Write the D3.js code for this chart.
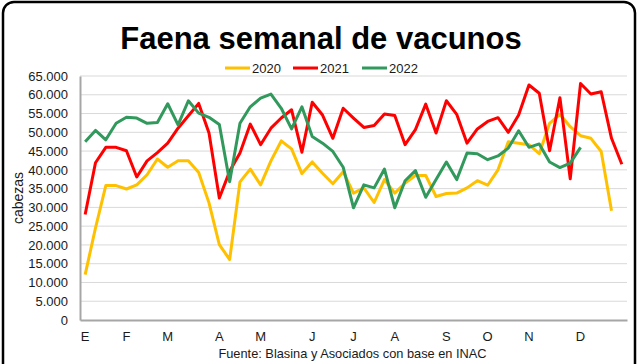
<!DOCTYPE html>
<html>
<head>
<meta charset="utf-8">
<script src="https://cdn.jsdelivr.net/npm/d3@7/dist/d3.min.js"></script>
<style>
  html, body { margin: 0; padding: 0; background: #fff; }
  svg { display: block; font-family: "Liberation Sans", Arial, sans-serif; }
</style>
</head>
<body>
<svg id="chart" width="640" height="364"></svg>
<script>
const title = "Faena semanal de vacunos";
const yAxisTitle = "cabezas";
const source = "Fuente: Blasina y Asociados con base en INAC";
const seriesNames = ["2020", "2021", "2022"];
const seriesColors = ["#FFC000", "#FF0000", "#31995C"];
// weekly categories 1..53
const weeks = d3.range(1, 54);
// month labels at week indices
const monthLabels = ["E", "F", "M", "A", "M", "J", "J", "A", "S", "O", "N", "D"];
const monthWeekIdx = [0, 4, 8, 13, 17, 22, 26, 30, 35, 39, 43, 48];
const yTicks = [0, 5000, 10000, 15000, 20000, 25000, 30000, 35000, 40000, 45000, 50000, 55000, 60000, 65000];

const values2020 = [12100, 24500, 35800, 35800, 34900, 36000, 38700, 42900, 40700, 42400, 42400, 39300, 31200, 20100, 16100, 36800, 40200, 36000, 42400, 47700, 45600, 39000, 42100, 39100, 36300, 39500, 33800, 35200, 31300, 37400, 33800, 36500, 38500, 38500, 32900, 33700, 33800, 35200, 37100, 35900, 40000, 47500, 47100, 46700, 44300, 52400, 54800, 51500, 49100, 48400, 44900, 29100];
const values2021 = [28100, 41900, 46000, 46000, 45100, 38100, 42400, 44600, 47100, 51100, 54400, 57700, 49800, 32500, 39600, 44500, 52200, 46700, 51100, 53800, 56000, 44700, 58000, 54600, 48400, 56400, 53800, 51300, 51800, 54900, 54500, 46700, 50700, 57500, 49800, 58400, 54800, 47100, 50900, 52900, 53900, 50000, 54600, 62600, 60400, 45100, 59200, 37600, 63000, 60200, 60800, 48400, 41500];
const values2022 = [47500, 50500, 48000, 52400, 54000, 53800, 52400, 52600, 57600, 52000, 58400, 55100, 54000, 52100, 36800, 52400, 56800, 59100, 60200, 56400, 50900, 56800, 48900, 47100, 44900, 40700, 29900, 36000, 35200, 40200, 29900, 37100, 39800, 32700, 37400, 42100, 37400, 44500, 44300, 42700, 43700, 45800, 50400, 46000, 46900, 42100, 40600, 41800, 46000];
const allSeries = [values2020, values2021, values2022];

const svg = d3.select("#chart");
const W = 640, H = 364;
const m = { left: 80, right: 13, top: 76, bottom: 44 };
const plotW = W - m.left - m.right;   // 547
const plotH = H - m.top - m.bottom;   // 244

// frame
svg.append("rect")
  .attr("x", 3).attr("y", 2).attr("width", 632).attr("height", 380)
  .attr("rx", 11).attr("ry", 11)
  .attr("fill", "#fff").attr("stroke", "#000").attr("stroke-width", 2.5);

const x = d3.scaleBand().domain(weeks).range([m.left, m.left + plotW]);
const y = d3.scaleLinear().domain([0, 65000]).range([m.top + plotH, m.top]);

const fmt = d3.formatLocale({ decimal: ",", thousands: ".", grouping: [3], currency: ["$", ""] }).format(",d");

// gridlines
svg.append("g").selectAll("line").data(yTicks.filter(d => d > 0)).join("line")
  .attr("x1", m.left).attr("x2", m.left + plotW)
  .attr("y1", d => y(d)).attr("y2", d => y(d))
  .attr("stroke", "#d9d9d9").attr("stroke-width", 1);

// y axis
const yAxis = svg.append("g").attr("transform", `translate(${m.left},0)`)
  .call(d3.axisLeft(y).tickValues(yTicks).tickFormat(d => fmt(d)).tickSize(0).tickPadding(12));
yAxis.select(".domain").attr("stroke", "#a6a6a6").attr("stroke-width", 2);
yAxis.selectAll("text").attr("font-size", 13).attr("fill", "#1a1a1a")
  .attr("font-family", "'Liberation Sans', Arial, sans-serif");

// x axis
const xAxis = svg.append("g").attr("transform", `translate(0,${m.top + plotH})`)
  .call(d3.axisBottom(x)
    .tickValues(monthWeekIdx.map(i => weeks[i]))
    .tickFormat(d => monthLabels[monthWeekIdx.indexOf(weeks.indexOf(d))])
    .tickSize(0).tickPadding(12));
xAxis.select(".domain").attr("stroke", "#a6a6a6").attr("stroke-width", 2);
xAxis.selectAll("text").attr("font-size", 13).attr("fill", "#1a1a1a")
  .attr("font-family", "'Liberation Sans', Arial, sans-serif");

// lines
const line = d3.line()
  .x((d, i) => x(weeks[i]) + x.bandwidth() / 2)
  .y(d => y(d));
allSeries.forEach((vals, si) => {
  svg.append("path").datum(vals)
    .attr("d", line)
    .attr("fill", "none")
    .attr("stroke", seriesColors[si])
    .attr("stroke-width", 3)
    .attr("stroke-linejoin", "round");
});

// title
svg.append("text").attr("x", 321).attr("y", 49).attr("text-anchor", "middle")
  .attr("font-size", 31).attr("font-weight", "bold").attr("fill", "#000")
  .text(title);

// legend
const legendX = [225, 293, 362];
seriesNames.forEach((name, i) => {
  const g = svg.append("g").attr("transform", `translate(${legendX[i]},68)`);
  g.append("line").attr("x1", 0).attr("x2", 25).attr("y1", 0).attr("y2", 0)
    .attr("stroke", seriesColors[i]).attr("stroke-width", 3);
  g.append("text").attr("x", 27).attr("y", 5).attr("font-size", 13).attr("fill", "#1a1a1a").text(name);
});

// y axis title
svg.append("text")
  .attr("transform", `translate(23,${m.top + plotH / 2}) rotate(-90)`)
  .attr("text-anchor", "middle").attr("font-size", 14).attr("fill", "#1a1a1a")
  .text(yAxisTitle);

// source
svg.append("text").attr("x", 352.5).attr("y", 358).attr("text-anchor", "middle")
  .attr("font-size", 12.8).attr("fill", "#1a1a1a").text(source);
</script>
</body>
</html>
